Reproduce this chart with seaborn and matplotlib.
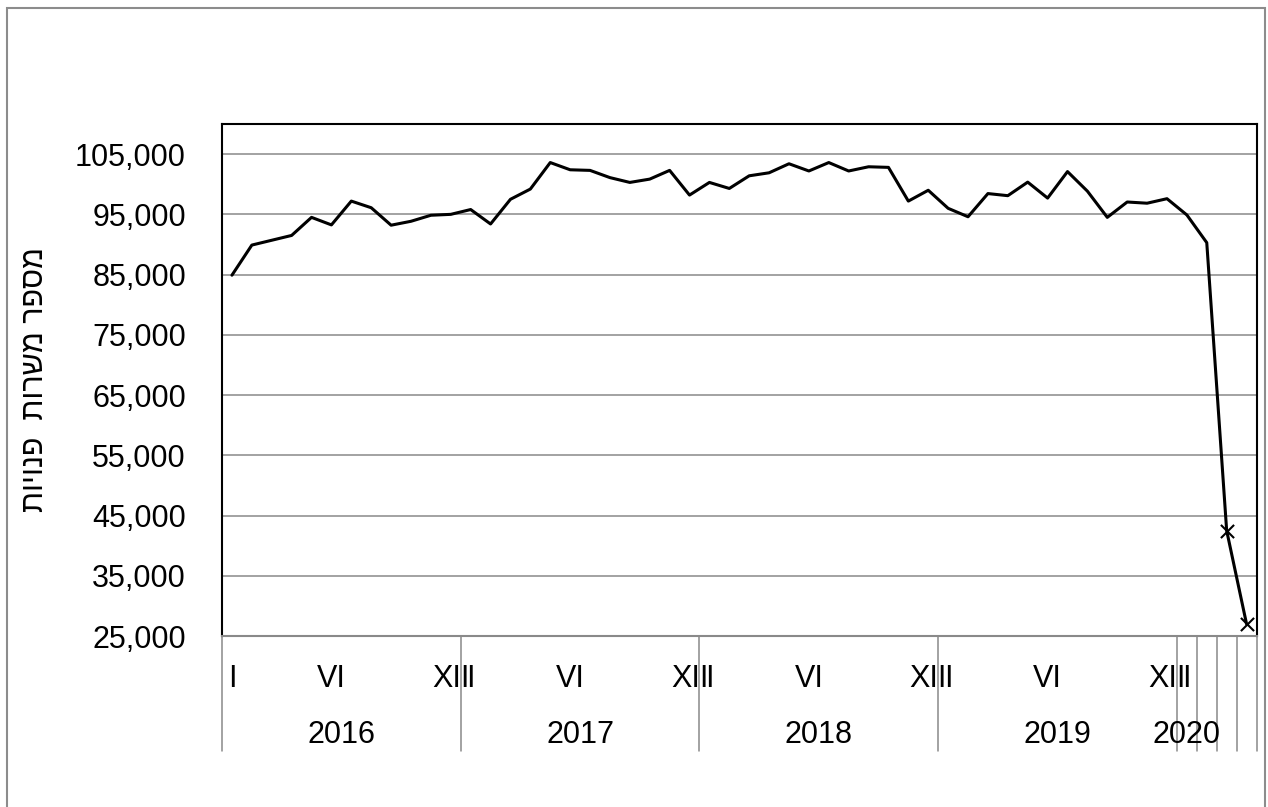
import pandas as pd
import matplotlib
matplotlib.use("Agg")
import matplotlib.pyplot as plt
import seaborn as sns
from matplotlib.patches import Rectangle
from matplotlib.ticker import FuncFormatter

# Daten: offene Stellen pro Monat, Jan 2016 - Apr 2020
years = [2016, 2017, 2018, 2019, 2020]
months_per_year = [12, 12, 12, 12, 4]
month_labels = {1: "I", 6: "VI", 12: "XII"}
vacancies = [
    84900, 89900, 90700, 91500, 94500, 93250, 97200, 96100, 93200, 93850, 94850, 95000,
    95800, 93400, 97500, 99200, 103600, 102400, 102300, 101100, 100300, 100850, 102300, 98200,
    100300, 99300, 101400, 101900, 103400, 102200, 103600, 102200, 102900, 102800, 97200, 99000,
    96000, 94600, 98450, 98100, 100350, 97700, 102100, 98850, 94500, 97050, 96850, 97600,
    94900, 90300, 42500, 27000,
]
marked_points = [50, 51]  # Maerz/April 2020 mit x-Markern
y_ticks = list(range(25000, 110000, 10000))
ylabel = "מספר משרות  פנויות"

rows = []
for y, n in zip(years, months_per_year):
    for m in range(1, n + 1):
        rows.append((y, m))
df = pd.DataFrame(rows, columns=["year", "month"])
df["pos"] = range(len(df))
df["value"] = vacancies

sns.set_theme(style="white")
plt.rcParams["font.family"] = ["Liberation Sans", "DejaVu Sans"]

W, H = 1268, 807
fig = plt.figure(figsize=(W / 100, H / 100), dpi=100)
ax = fig.add_axes([222 / W, 171 / H, 1034.5 / W, 512 / H])

sns.lineplot(data=df, x="pos", y="value", color="black", lw=2.2, ax=ax)
sns.scatterplot(data=df.iloc[marked_points], x="pos", y="value", marker="x",
                color="black", s=90, linewidth=1.5, ax=ax, zorder=3)

ax.set_xlim(-0.5, len(df) - 0.5)
ax.set_ylim(25000, 110000)
ax.set_yticks(y_ticks)
ax.yaxis.set_major_formatter(FuncFormatter(lambda v, p: f"{v:,.0f}"))
ax.grid(axis="y", color="#898989", lw=1.1)
ax.set_xticks([])
ax.set_xlabel("")
ax.tick_params(axis="y", length=0, pad=26, labelsize=22, labelcolor="black")

for s in ["top", "left", "right"]:
    ax.spines[s].set_color("black")
    ax.spines[s].set_linewidth(1.5)
ax.spines["bottom"].set_color("#898989")
ax.spines["bottom"].set_linewidth(1.5)

ax.set_ylabel(ylabel[::-1], fontsize=22, color="black")
ax.yaxis.set_label_coords(-0.166, 0.5)

# mehrstufige Kategorienachse
trans = ax.get_xaxis_transform()
for _, r in df.iterrows():
    if r["month"] in month_labels:
        ax.text(r["pos"], -0.0996, month_labels[r["month"]], transform=trans,
                ha="center", va="baseline", fontsize=22, color="black")

sep_bottom = -0.2246
bounds = [-0.5]
for y, n in zip(years, months_per_year):
    sub = df[df["year"] == y]
    start = sub["pos"].min()
    xc = start + (n - 1) / 2 if n == 12 else start
    ax.text(xc, -0.209, str(y), transform=trans, ha="center", va="baseline",
            fontsize=22, color="black")
    if n < 12:
        bounds += [p + 0.5 for p in sub["pos"]]
    else:
        bounds.append(sub["pos"].max() + 0.5)
for b in bounds:
    ax.plot([b, b], [0, sep_bottom], transform=trans, clip_on=False,
            color="#898989", lw=1.1)

fig.patches.append(Rectangle((7 / W, -0.05), (1265 - 7) / W, 1 - 8 / H + 0.05,
                             transform=fig.transFigure, fill=False,
                             edgecolor="#8c8c8c", lw=1.5))

fig.savefig("out.png", dpi=100)
